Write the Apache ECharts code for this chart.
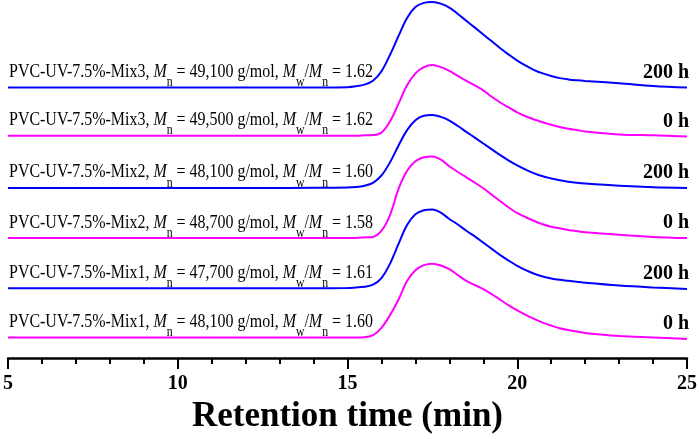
<!DOCTYPE html>
<html><head><meta charset="utf-8">
<script src="https://cdn.jsdelivr.net/npm/echarts@6/dist/echarts.min.js"></script>
<style>html,body{margin:0;padding:0;background:#fff}#c{width:700px;height:439px}</style>
</head><body><div id="c"></div>
<script>
// retention time samples (min)
const times = [5, 10, 12.5, 14, 15, 15.25, 15.5, 15.75, 16, 16.25, 16.5, 16.75, 17, 17.25, 17.5, 17.75, 18, 18.25, 18.5, 18.75, 19, 19.25, 19.5, 19.75, 20, 20.25, 20.5, 20.75, 21, 21.25, 21.5, 21.75, 22, 23, 24, 25];
// detector signal above each trace's baseline (arbitrary units)
const mix3_200h = [0, 0, 0, 0.1, 0.4, 1.3, 3.0, 7.0, 16.5, 33.1, 52.2, 70.5, 81.8, 86.1, 87, 85.3, 81.3, 74.8, 67.9, 60.9, 53.9, 47, 40, 33.5, 27.4, 22.2, 17.8, 14.4, 11.7, 9.6, 8.3, 7.4, 6.7, 4.4, 1.7, 0];
const mix3_0h   = [0, 0, 0, 0, 0, 0, 0.4, 0.7, 3.2, 14.4, 32.4, 51.1, 63.4, 69.8, 72, 69.8, 65.9, 60.8, 55.8, 51.1, 46.1, 39.6, 33.8, 28.8, 23.8, 19.8, 16.6, 13.7, 11.2, 9, 7.2, 5.8, 4.3, 1.4, 0.4, -0.7];
const mix2_200h = [0, 0, 0, 0.1, 0.4, 0.9, 2.2, 5.2, 12.6, 25.9, 42.9, 58.5, 68.8, 73.3, 74, 72.2, 68.5, 62.9, 57, 51.1, 45.1, 39.2, 33.3, 27.8, 22.9, 18.5, 14.8, 11.8, 9.6, 7.8, 6.3, 5.2, 4.4, 2.2, 0.7, 0];
const mix2_0h   = [0, 0, 0, 0, 0, 0.2, 0.7, 1.2, 7.5, 23.2, 49.8, 68.1, 78, 82.2, 83, 79.7, 73, 67.2, 61.8, 56.4, 50.6, 44, 37.4, 31.1, 25.3, 21.2, 17.4, 14.1, 11.6, 10, 8.3, 7.1, 6, 3.3, 1.2, 0];
const mix1_200h = [0, 0, 0, 0.1, 0.2, 0.8, 1.6, 3.6, 10.4, 24.8, 44.8, 64, 75.2, 79.2, 80, 76.8, 70.4, 64.8, 58.4, 52.8, 46.4, 40, 33.6, 28, 22.8, 18.4, 14.8, 12, 10, 8.6, 7.6, 6.6, 5.6, 2.8, 0.8, -0.8];
const mix1_0h   = [0, 0, 0, 0, 0, 0, 0.2, 2.3, 9.8, 22.5, 38.3, 57, 68.3, 73.5, 75, 73.1, 69.4, 63.4, 57.4, 53.3, 49.1, 43.9, 38.3, 32.6, 27.4, 22.9, 18.8, 15, 12, 9.4, 7.5, 6, 4.5, 1.5, 0, -1.5];
// vertical stacking offsets of the traces
const offsets = [275, 226, 173, 122, 71, 21];
// annotations
const sampleNames = ['PVC-UV-7.5%-Mix3', 'PVC-UV-7.5%-Mix3', 'PVC-UV-7.5%-Mix2', 'PVC-UV-7.5%-Mix2', 'PVC-UV-7.5%-Mix1', 'PVC-UV-7.5%-Mix1'];
const mnValues = ['49,100', '49,500', '48,100', '48,700', '47,700', '48,100'];
const pdiValues = ['1.62', '1.62', '1.60', '1.58', '1.61', '1.60'];
const ageLabels = ['200 h', '0 h', '200 h', '0 h', '200 h', '0 h'];
const xTicks = [5, 10, 15, 20, 25];

const signals = [mix3_200h, mix3_0h, mix2_200h, mix2_0h, mix1_200h, mix1_0h];
const colors = ['#0000ff', '#ff00ff', '#0000ff', '#ff00ff', '#0000ff', '#ff00ff'];
const FF = '"Liberation Serif", "Times New Roman", serif';

const chart = echarts.init(document.getElementById('c'));
const series = signals.map((sig, i) => ({
  type: 'line',
  data: times.map((t, j) => [t, sig[j] + offsets[i]]),
  smooth: 0.35,
  symbol: 'none',
  silent: true,
  lineStyle: { color: colors[i], width: 2 }
}));

chart.setOption({
  animation: false,
  textStyle: { fontFamily: FF },
  grid: { left: 6, right: 12, top: 0, bottom: 75 },
  xAxis: {
    type: 'value', min: xTicks[0], max: xTicks[xTicks.length - 1], interval: 5,
    axisLine: { onZero: false, lineStyle: { color: '#000', width: 2.5 } },
    axisTick: { length: 11, lineStyle: { color: '#000', width: 2 } },
    minorTick: { show: true, splitNumber: 5, length: 6, lineStyle: { color: '#000', width: 2 } },
    splitLine: { show: false },
    axisLabel: { fontFamily: FF, fontWeight: 'bold', fontSize: 20, color: '#000', margin: 16 },
    name: 'Retention time (min)', nameLocation: 'middle', nameGap: 36,
    nameTextStyle: { fontFamily: FF, fontWeight: 'bold', fontSize: 35, color: '#000' }
  },
  yAxis: { type: 'value', min: 0, max: 364, show: false },
  series
});

// text layout helpers for sub-scripted annotations
const ctx = document.createElement('canvas').getContext('2d');
const MAIN = 19, SUB = 14;
function fontOf(kind) {
  if (kind === 'i') return 'italic ' + MAIN + 'px ' + FF;
  if (kind === 's') return SUB + 'px ' + FF;
  return MAIN + 'px ' + FF;
}
function buildLabel(i) {
  const pieces = [
    ['r', sampleNames[i] + ', '], ['i', 'M'], ['s', 'n'],
    ['r', ' = ' + mnValues[i] + ' g/mol, '], ['i', 'M'], ['s', 'w'], ['r', '/'], ['i', 'M'], ['s', 'n'],
    ['r', ' = ' + pdiValues[i]]
  ];
  let x = 0;
  const children = [];
  pieces.forEach(([kind, txt]) => {
    const font = fontOf(kind);
    ctx.font = font;
    const w = ctx.measureText(txt).width;
    children.push({
      type: 'text', x: x, y: kind === 's' ? 2 : -6, silent: true,
      style: { text: txt, font: font, align: 'left', verticalAlign: 'bottom', fill: '#000' }
    });
    x += w;
  });
  return children;
}

const graphics = [];
offsets.forEach((off, i) => {
  const n = times.length - 1;
  const pL = chart.convertToPixel({ gridIndex: 0 }, [times[0], signals[i][0] + off]);
  const pR = chart.convertToPixel({ gridIndex: 0 }, [times[n], signals[i][n] + off]);
  graphics.push({
    type: 'group', x: pL[0] + 1, y: pL[1], scaleX: 0.84, silent: true,
    children: buildLabel(i)
  });
  graphics.push({
    type: 'text', x: pR[0] + 2, y: pR[1] - 5, silent: true,
    style: { text: ageLabels[i], align: 'right', verticalAlign: 'bottom', font: 'bold 20px ' + FF, fill: '#000' }
  });
});
chart.setOption({ graphic: graphics });
</script></body></html>
